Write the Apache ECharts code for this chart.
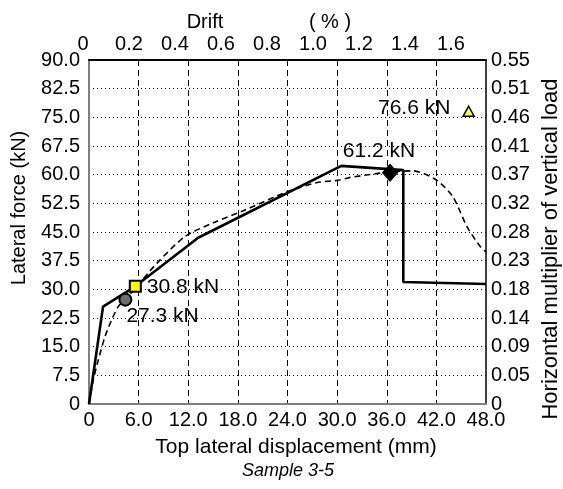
<!DOCTYPE html>
<html>
<head>
<meta charset="utf-8">
<script src="https://cdn.jsdelivr.net/npm/echarts@6/dist/echarts.min.js"></script>
<style>
  html, body { margin: 0; padding: 0; background: #fff; }
  #chart { width: 563px; height: 489px; }
</style>
</head>
<body>
<div id="chart"></div>
<script>
// ---- data ----
// Skeleton (solid) curve: top lateral displacement (mm) vs lateral force (kN)
const skeletonDisp  = [0, 1.7, 5.6, 13.2, 30.5, 38.0, 38.0, 48.0];
const skeletonForce = [0, 25.5, 30.8, 43.5, 62.3, 61.2, 31.9, 31.4];

// Test envelope (dashed) curve
const testDisp  = [0, 0.52, 1.12, 1.93, 2.74, 3.54, 4.4, 8.2, 11.6, 15.0, 18.6, 23.9, 27.5, 30.3, 31.6, 36.4, 39.2, 42.0, 44.0, 45.7, 47.3, 48.0];
const testForce = [0, 6.3, 11.5, 17.6, 22.0, 25.5, 27.3, 36.8, 43.8, 47.4, 50.5, 55.5, 57.9, 58.6, 59.3, 60.7, 61.0, 58.6, 54.2, 46.4, 41.2, 39.8];

// Characteristic points
const markerNames  = ['Cracking', 'Yield', 'Peak', 'Predicted'];
const markerDisp   = [4.4, 5.6, 36.4, 45.9];
const markerForce  = [27.3, 30.8, 60.5, 76.6];
const markerLabels = ['27.3 kN', '30.8 kN', '61.2 kN', '76.6 kN'];

// Axis tick labels
const rightTickLabels = ['0', '0.05', '0.09', '0.14', '0.18', '0.23', '0.28', '0.32', '0.37', '0.41', '0.46', '0.51', '0.55'];

// ---- chart ----
const FONT = 'Liberation Sans, Arial, Helvetica, sans-serif';
const fmt1 = v => (v === 0 ? '0' : v.toFixed(1));

const markerStyles = [
  { symbol: 'circle', symbolSize: 12, itemStyle: { color: '#6e6e6e', borderColor: '#000', borderWidth: 2, opacity: 1 },
    label: { position: 'right', distance: 5, offset: [-11, 17] } },
  { symbol: 'rect', symbolSize: 11, itemStyle: { color: '#ffff00', borderColor: '#000', borderWidth: 2, opacity: 1 },
    label: { position: 'right', distance: 5, offset: [0, 1] } },
  { symbol: 'diamond', symbolSize: [15, 17], itemStyle: { color: '#000', borderColor: '#000', borderWidth: 1, opacity: 1 },
    label: { position: 'top', distance: 4, offset: [-11, 2] } },
  { symbol: 'triangle', symbolSize: [11, 10], itemStyle: { color: '#ffff66', borderColor: '#000', borderWidth: 1.5, opacity: 1 },
    label: { position: 'left', distance: 12, offset: [0, -3] } }
];

const markerData = markerDisp.map((x, i) => ({
  name: markerNames[i],
  value: [x, markerForce[i]],
  symbol: markerStyles[i].symbol,
  symbolSize: markerStyles[i].symbolSize,
  itemStyle: markerStyles[i].itemStyle,
  label: Object.assign({
    show: true,
    formatter: markerLabels[i],
    color: '#000',
    opacity: 1,
    fontSize: 21,
    fontFamily: FONT
  }, markerStyles[i].label)
}));

const chart = echarts.init(document.getElementById('chart'), null, { renderer: 'canvas' });

const option = {
  backgroundColor: '#fff',
  animation: false,
  grid: { left: 89, right: 77, top: 60, bottom: 85, containLabel: false },
  xAxis: [
    {
      type: 'value', position: 'bottom', min: 0, max: 48, interval: 6,
      axisLine: { show: true, lineStyle: { color: '#808080', width: 2 } },
      axisTick: { show: false },
      axisLabel: { color: '#000', fontSize: 20, fontFamily: FONT, margin: 6, formatter: fmt1 },
      splitLine: { show: true, showMinLine: false, showMaxLine: false,
        lineStyle: { color: '#000', width: 1, type: [6, 4] } }
    },
    {
      type: 'value', position: 'top', min: 0, max: 1.726, interval: 0.2,
      axisLine: { show: true, onZero: false, lineStyle: { color: '#000', width: 2 } },
      axisTick: { show: false },
      splitLine: { show: false },
      axisLabel: { color: '#000', fontSize: 20, fontFamily: FONT, margin: 6, showMaxLabel: false,
        padding: [0, 12, 0, 0],
        formatter: v => (v === 0 ? '0' : v.toFixed(1)) }
    }
  ],
  yAxis: [
    {
      type: 'value', position: 'left', min: 0, max: 90, interval: 7.5,
      axisLine: { show: true, onZero: false, lineStyle: { color: '#808080', width: 2 } },
      axisTick: { show: false },
      axisLabel: { color: '#000', fontSize: 20, fontFamily: FONT, margin: 9, formatter: fmt1 },
      splitLine: { show: true, showMinLine: false, showMaxLine: false,
        lineStyle: { color: '#000', width: 1, type: [1, 3] } }
    },
    {
      type: 'value', position: 'right', min: 0, max: 90, interval: 7.5,
      axisLine: { show: true, onZero: false, lineStyle: { color: '#000', width: 1.5 } },
      axisTick: { show: false },
      splitLine: { show: false },
      axisLabel: { color: '#000', fontSize: 20, fontFamily: FONT, margin: 5,
        formatter: v => rightTickLabels[Math.round(v / 7.5)] }
    }
  ],
  series: [
    {
      name: 'Test envelope', type: 'line', xAxisIndex: 0, yAxisIndex: 0,
      data: testDisp.map((x, i) => [x, testForce[i]]),
      showSymbol: false, symbol: 'none', smooth: 0.25,
      lineStyle: { color: '#000', width: 1.6, type: [6, 4] },
      z: 3
    },
    {
      name: 'Skeleton', type: 'line', xAxisIndex: 0, yAxisIndex: 0,
      data: skeletonDisp.map((x, i) => [x, skeletonForce[i]]),
      showSymbol: false, symbol: 'none',
      lineStyle: { color: '#000', width: 2.6 },
      z: 4
    },
    {
      name: 'Characteristic points', type: 'scatter', xAxisIndex: 0, yAxisIndex: 0,
      data: markerData, z: 5
    }
  ],
  graphic: [
    { type: 'text', x: 205, y: 22, style: { text: 'Drift', fontSize: 20, fontFamily: FONT, fill: '#000', align: 'center', verticalAlign: 'middle', textAlign: 'center', textVerticalAlign: 'middle' } },
    { type: 'text', x: 330, y: 22, style: { text: '( % )', fontSize: 20, fontFamily: FONT, fill: '#000', align: 'center', verticalAlign: 'middle', textAlign: 'center', textVerticalAlign: 'middle' } },
    { type: 'text', x: 19, y: 208, rotation: Math.PI / 2, style: { text: 'Lateral force (kN)', fontSize: 20, fontFamily: FONT, fill: '#000', align: 'center', verticalAlign: 'middle', textAlign: 'center', textVerticalAlign: 'middle' } },
    { type: 'text', x: 551, y: 249, rotation: Math.PI / 2, style: { text: 'Horizontal multiplier of vertical load', fontSize: 22, fontFamily: FONT, fill: '#000', align: 'center', verticalAlign: 'middle', textAlign: 'center', textVerticalAlign: 'middle' } },
    { type: 'text', x: 296, y: 447, style: { text: 'Top lateral displacement (mm)', fontSize: 21, fontFamily: FONT, fill: '#000', align: 'center', verticalAlign: 'middle', textAlign: 'center', textVerticalAlign: 'middle' } },
    { type: 'text', x: 288, y: 471, style: { text: 'Sample 3-5', fontSize: 18, fontStyle: 'italic', fontFamily: FONT, fill: '#000', align: 'center', verticalAlign: 'middle', textAlign: 'center', textVerticalAlign: 'middle' } }
  ]
};

chart.setOption(option);
</script>
</body>
</html>
